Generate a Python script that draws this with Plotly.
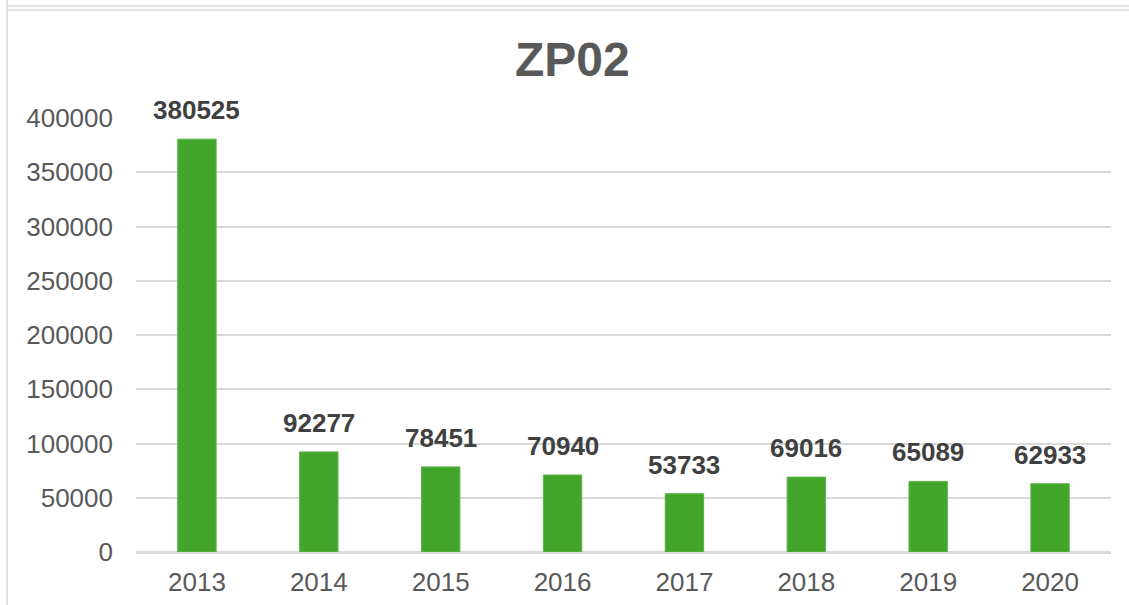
import plotly.graph_objects as go

years = ["2013", "2014", "2015", "2016", "2017", "2018", "2019", "2020"]
counts = [380525, 92277, 78451, 70940, 53733, 69016, 65089, 62933]
y_ticks = [0, 50000, 100000, 150000, 200000, 250000, 300000, 350000, 400000]

FONT = "Arial, Liberation Sans, sans-serif"
BAR = "#44A52C"
GRID = "#D9D9D9"

fig = go.Figure(go.Bar(
    x=years, y=counts,
    marker=dict(color=BAR, line=dict(color="#5CB548", width=1)),
    width=0.315,
    hoverinfo="x+y",
))

# value labels above bars (category index, so they don't get read as numbers)
for i, v in enumerate(counts):
    fig.add_annotation(
        x=i, y=v, text=f"<b>{v}</b>", showarrow=False,
        yanchor="bottom", yshift=12,
        font=dict(family=FONT, size=26, color="#404040"),
    )

# outer frame lines like the source spreadsheet
fx0 = (7 - 136) / 975
fx1 = (1129 - 136) / 975
for py in (6, 10):
    yp = (552 - py) / 434
    fig.add_shape(type="line", xref="paper", yref="paper",
                  x0=fx0, x1=fx1, y0=yp, y1=yp,
                  line=dict(color=GRID, width=1.5))
fig.add_shape(type="line", xref="paper", yref="paper",
              x0=fx0, x1=fx0, y0=(552 - 0) / 434, y1=(552 - 605) / 434,
              line=dict(color=GRID, width=1.5))

fig.update_layout(
    width=1129, height=605,
    paper_bgcolor="white", plot_bgcolor="white",
    margin=dict(l=136, r=18, t=118, b=53, autoexpand=False),
    font=dict(family=FONT, color="#595959"),
    title=dict(text="<b>ZP02</b>", xref="container", x=0.507, xanchor="center",
               y=1 - 58.7 / 605, yanchor="middle",
               font=dict(family=FONT, size=48, color="#595959")),
    showlegend=False,
    xaxis=dict(type="category", range=[-0.5, len(years) - 0.5],
               showgrid=False, showline=True, linecolor=GRID, linewidth=1.5,
               tickfont=dict(size=26, color="#595959"), ticks="", ticklabelstandoff=6,
               automargin=False),
    yaxis=dict(range=[0, 400000], tickvals=y_ticks, ticktext=[str(t) for t in y_ticks],
               showgrid=True, gridcolor=GRID, gridwidth=1.5,
               zeroline=True, zerolinecolor=GRID, zerolinewidth=1.5,
               tickfont=dict(size=26, color="#595959"), ticks="", ticklabelstandoff=22,
               automargin=False),
)

fig.write_html("out.html", config={"displayModeBar": False},
               post_script="document.body.style.margin='0';")
